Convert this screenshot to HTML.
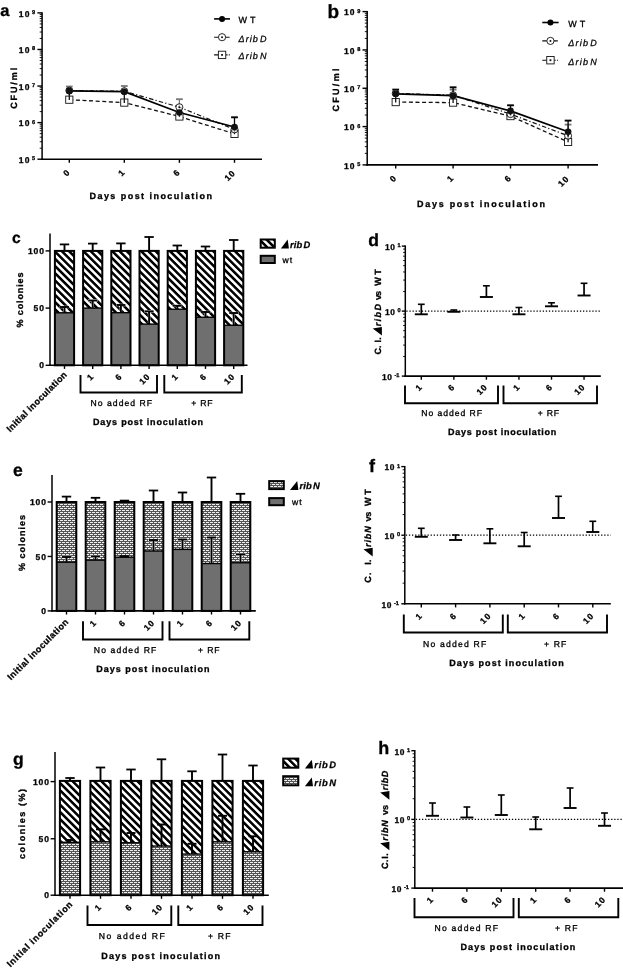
<!DOCTYPE html>
<html><head><meta charset="utf-8"><title>Figure</title>
<style>html,body{margin:0;padding:0;background:#fff}svg{display:block;text-rendering:geometricPrecision;will-change:transform;opacity:0.999}</style></head>
<body>
<svg width="623" height="968" viewBox="0 0 623 968" font-family='"Liberation Sans", Arial, sans-serif'>
<rect width="623" height="968" fill="#fff"/>
<text x="0.30" y="15.70" font-size="16.5" font-weight="bold" text-anchor="start" fill="#000" stroke="#000" stroke-width="0.3" >a</text>
<line x1="42.10" y1="12.20" x2="42.10" y2="160.00" stroke="#000" stroke-width="1.5" />
<line x1="37.40" y1="12.90" x2="42.10" y2="12.90" stroke="#000" stroke-width="1.4" />
<text x="30.50" y="16.70" font-size="8.5" font-weight="bold" text-anchor="end" fill="#000" letter-spacing="1.1" stroke="#000" stroke-width="0.3" >10</text>
<text x="32.10" y="13.90" font-size="5.6" font-weight="bold" text-anchor="start" fill="#000" stroke="#000" stroke-width="0.3" >9</text>
<line x1="39.70" y1="38.46" x2="42.10" y2="38.46" stroke="#000" stroke-width="0.9" />
<line x1="39.70" y1="32.02" x2="42.10" y2="32.02" stroke="#000" stroke-width="0.9" />
<line x1="39.70" y1="27.45" x2="42.10" y2="27.45" stroke="#000" stroke-width="0.9" />
<line x1="39.70" y1="23.91" x2="42.10" y2="23.91" stroke="#000" stroke-width="0.9" />
<line x1="39.70" y1="21.01" x2="42.10" y2="21.01" stroke="#000" stroke-width="0.9" />
<line x1="39.70" y1="18.57" x2="42.10" y2="18.57" stroke="#000" stroke-width="0.9" />
<line x1="39.70" y1="16.44" x2="42.10" y2="16.44" stroke="#000" stroke-width="0.9" />
<line x1="39.70" y1="14.57" x2="42.10" y2="14.57" stroke="#000" stroke-width="0.9" />
<line x1="37.40" y1="49.47" x2="42.10" y2="49.47" stroke="#000" stroke-width="1.4" />
<text x="30.50" y="53.27" font-size="8.5" font-weight="bold" text-anchor="end" fill="#000" letter-spacing="1.1" stroke="#000" stroke-width="0.3" >10</text>
<text x="32.10" y="50.47" font-size="5.6" font-weight="bold" text-anchor="start" fill="#000" stroke="#000" stroke-width="0.3" >8</text>
<line x1="39.70" y1="75.04" x2="42.10" y2="75.04" stroke="#000" stroke-width="0.9" />
<line x1="39.70" y1="68.60" x2="42.10" y2="68.60" stroke="#000" stroke-width="0.9" />
<line x1="39.70" y1="64.03" x2="42.10" y2="64.03" stroke="#000" stroke-width="0.9" />
<line x1="39.70" y1="60.49" x2="42.10" y2="60.49" stroke="#000" stroke-width="0.9" />
<line x1="39.70" y1="57.59" x2="42.10" y2="57.59" stroke="#000" stroke-width="0.9" />
<line x1="39.70" y1="55.14" x2="42.10" y2="55.14" stroke="#000" stroke-width="0.9" />
<line x1="39.70" y1="53.02" x2="42.10" y2="53.02" stroke="#000" stroke-width="0.9" />
<line x1="39.70" y1="51.15" x2="42.10" y2="51.15" stroke="#000" stroke-width="0.9" />
<line x1="37.40" y1="86.05" x2="42.10" y2="86.05" stroke="#000" stroke-width="1.4" />
<text x="30.50" y="89.85" font-size="8.5" font-weight="bold" text-anchor="end" fill="#000" letter-spacing="1.1" stroke="#000" stroke-width="0.3" >10</text>
<text x="32.10" y="87.05" font-size="5.6" font-weight="bold" text-anchor="start" fill="#000" stroke="#000" stroke-width="0.3" >7</text>
<line x1="39.70" y1="111.61" x2="42.10" y2="111.61" stroke="#000" stroke-width="0.9" />
<line x1="39.70" y1="105.17" x2="42.10" y2="105.17" stroke="#000" stroke-width="0.9" />
<line x1="39.70" y1="100.60" x2="42.10" y2="100.60" stroke="#000" stroke-width="0.9" />
<line x1="39.70" y1="97.06" x2="42.10" y2="97.06" stroke="#000" stroke-width="0.9" />
<line x1="39.70" y1="94.16" x2="42.10" y2="94.16" stroke="#000" stroke-width="0.9" />
<line x1="39.70" y1="91.72" x2="42.10" y2="91.72" stroke="#000" stroke-width="0.9" />
<line x1="39.70" y1="89.59" x2="42.10" y2="89.59" stroke="#000" stroke-width="0.9" />
<line x1="39.70" y1="87.72" x2="42.10" y2="87.72" stroke="#000" stroke-width="0.9" />
<line x1="37.40" y1="122.62" x2="42.10" y2="122.62" stroke="#000" stroke-width="1.4" />
<text x="30.50" y="126.42" font-size="8.5" font-weight="bold" text-anchor="end" fill="#000" letter-spacing="1.1" stroke="#000" stroke-width="0.3" >10</text>
<text x="32.10" y="123.62" font-size="5.6" font-weight="bold" text-anchor="start" fill="#000" stroke="#000" stroke-width="0.3" >6</text>
<line x1="39.70" y1="148.19" x2="42.10" y2="148.19" stroke="#000" stroke-width="0.9" />
<line x1="39.70" y1="141.75" x2="42.10" y2="141.75" stroke="#000" stroke-width="0.9" />
<line x1="39.70" y1="137.18" x2="42.10" y2="137.18" stroke="#000" stroke-width="0.9" />
<line x1="39.70" y1="133.64" x2="42.10" y2="133.64" stroke="#000" stroke-width="0.9" />
<line x1="39.70" y1="130.74" x2="42.10" y2="130.74" stroke="#000" stroke-width="0.9" />
<line x1="39.70" y1="128.29" x2="42.10" y2="128.29" stroke="#000" stroke-width="0.9" />
<line x1="39.70" y1="126.17" x2="42.10" y2="126.17" stroke="#000" stroke-width="0.9" />
<line x1="39.70" y1="124.30" x2="42.10" y2="124.30" stroke="#000" stroke-width="0.9" />
<line x1="37.40" y1="159.20" x2="42.10" y2="159.20" stroke="#000" stroke-width="1.4" />
<text x="30.50" y="163.00" font-size="8.5" font-weight="bold" text-anchor="end" fill="#000" letter-spacing="1.1" stroke="#000" stroke-width="0.3" >10</text>
<text x="32.10" y="160.20" font-size="5.6" font-weight="bold" text-anchor="start" fill="#000" stroke="#000" stroke-width="0.3" >5</text>
<line x1="41.30" y1="159.20" x2="262.00" y2="159.20" stroke="#000" stroke-width="1.6" />
<line x1="69.30" y1="159.20" x2="69.30" y2="162.80" stroke="#000" stroke-width="1.4" />
<text x="70.80" y="172.70" font-size="8.5" font-weight="bold" text-anchor="end" fill="#000" transform="rotate(-45 70.80 172.70)" letter-spacing="1.0" stroke="#000" stroke-width="0.3" >0</text>
<line x1="124.30" y1="159.20" x2="124.30" y2="162.80" stroke="#000" stroke-width="1.4" />
<text x="125.80" y="172.70" font-size="8.5" font-weight="bold" text-anchor="end" fill="#000" transform="rotate(-45 125.80 172.70)" letter-spacing="1.0" stroke="#000" stroke-width="0.3" >1</text>
<line x1="179.40" y1="159.20" x2="179.40" y2="162.80" stroke="#000" stroke-width="1.4" />
<text x="180.90" y="172.70" font-size="8.5" font-weight="bold" text-anchor="end" fill="#000" transform="rotate(-45 180.90 172.70)" letter-spacing="1.0" stroke="#000" stroke-width="0.3" >6</text>
<line x1="234.50" y1="159.20" x2="234.50" y2="162.80" stroke="#000" stroke-width="1.4" />
<text x="236.10" y="173.40" font-size="8.5" font-weight="bold" text-anchor="end" fill="#000" transform="rotate(-45 236.10 173.40)" letter-spacing="1.0" stroke="#000" stroke-width="0.3" >10</text>
<text x="16.60" y="88.30" font-size="9" font-weight="bold" text-anchor="middle" fill="#000" transform="rotate(-90 16.60 88.30)" textLength="41.00" lengthAdjust="spacing" stroke="#000" stroke-width="0.3" >CFU/ml</text>
<text x="89.50" y="199.00" font-size="9" font-weight="bold" text-anchor="start" fill="#000" textLength="122.50" lengthAdjust="spacing" stroke="#000" stroke-width="0.3" >Days post inoculation</text>
<line x1="69.30" y1="90.60" x2="69.30" y2="86.50" stroke="#777" stroke-width="1.2" />
<line x1="65.90" y1="86.50" x2="72.70" y2="86.50" stroke="#777" stroke-width="1.7999999999999998" />
<line x1="124.30" y1="91.20" x2="124.30" y2="86.00" stroke="#777" stroke-width="1.2" />
<line x1="120.90" y1="86.00" x2="127.70" y2="86.00" stroke="#777" stroke-width="1.7999999999999998" />
<line x1="179.40" y1="107.20" x2="179.40" y2="99.20" stroke="#777" stroke-width="1.2" />
<line x1="176.00" y1="99.20" x2="182.80" y2="99.20" stroke="#777" stroke-width="1.7999999999999998" />
<polyline points="69.30,99.70 124.30,102.60 179.40,116.50 234.50,133.90" fill="none" stroke="#111" stroke-width="1.3" stroke-dasharray="4 2.6"/>
<polyline points="69.30,90.60 124.30,91.20 179.40,107.20 234.50,129.40" fill="none" stroke="#111" stroke-width="1.2" stroke-dasharray="4.5 2.2 1.2 2.2"/>
<polyline points="69.30,90.90 124.30,91.70 179.40,112.50 234.50,127.00" fill="none" stroke="#000" stroke-width="1.7"/>
<line x1="234.50" y1="127.00" x2="234.50" y2="117.30" stroke="#000" stroke-width="1.3" />
<line x1="231.10" y1="117.30" x2="237.90" y2="117.30" stroke="#000" stroke-width="1.9" />
<rect x="65.70" y="96.10" width="7.20" height="7.20" fill="#fff" stroke="#111" stroke-width="0.9" />
<line x1="69.30" y1="100.00" x2="69.30" y2="93.50" stroke="#111" stroke-width="1.3" />
<circle cx="69.30" cy="90.60" r="3.5" fill="#fff" fill-opacity="0.6" stroke="#111" stroke-width="0.9"/>
<circle cx="69.30" cy="90.60" r="1" fill="#111"/>
<circle cx="69.30" cy="90.90" r="3.3" fill="#111"/>
<rect x="120.70" y="99.00" width="7.20" height="7.20" fill="#fff" stroke="#111" stroke-width="0.9" />
<line x1="124.30" y1="102.90" x2="124.30" y2="95.00" stroke="#111" stroke-width="1.3" />
<circle cx="124.30" cy="91.20" r="3.5" fill="#fff" fill-opacity="0.6" stroke="#111" stroke-width="0.9"/>
<circle cx="124.30" cy="91.20" r="1" fill="#111"/>
<circle cx="124.30" cy="91.70" r="3.3" fill="#111"/>
<rect x="175.80" y="112.90" width="7.20" height="7.20" fill="#fff" stroke="#111" stroke-width="0.9" />
<line x1="179.40" y1="116.80" x2="179.40" y2="110.50" stroke="#111" stroke-width="1.3" />
<circle cx="179.40" cy="107.20" r="3.5" fill="#fff" fill-opacity="0.6" stroke="#111" stroke-width="0.9"/>
<circle cx="179.40" cy="107.20" r="1" fill="#111"/>
<circle cx="179.40" cy="112.50" r="3.3" fill="#111"/>
<rect x="230.90" y="130.30" width="7.20" height="7.20" fill="#fff" stroke="#111" stroke-width="0.9" />
<line x1="234.50" y1="134.20" x2="234.50" y2="127.50" stroke="#111" stroke-width="1.3" />
<circle cx="234.50" cy="129.40" r="3.5" fill="#fff" fill-opacity="0.6" stroke="#111" stroke-width="0.9"/>
<circle cx="234.50" cy="129.40" r="1" fill="#111"/>
<circle cx="234.50" cy="127.00" r="3.3" fill="#111"/>
<line x1="214.10" y1="18.90" x2="230.00" y2="18.90" stroke="#000" stroke-width="1.6" />
<circle cx="222.05" cy="18.90" r="3" fill="#000"/>
<line x1="214.10" y1="37.20" x2="230.00" y2="37.20" stroke="#111" stroke-width="1.1" stroke-dasharray="4.5 6.5 4.5 2"/>
<circle cx="222.05" cy="37.20" r="3.6" fill="#fff" stroke="#111" stroke-width="0.9"/><circle cx="222.05" cy="37.20" r="1" fill="#111"/>
<line x1="214.10" y1="54.90" x2="230.00" y2="54.90" stroke="#111" stroke-width="1.1" stroke-dasharray="4.5 7.5 1.5 1.2 1 2"/>
<rect x="218.35" y="51.20" width="7.40" height="7.40" fill="#fff" stroke="#111" stroke-width="0.9" />
<rect x="221.15" y="54.00" width="1.80" height="1.80" fill="#111" stroke="none" stroke-width="0" />
<text x="238.50" y="22.50" font-size="9" font-weight="normal" text-anchor="start" fill="#000" textLength="16.90" lengthAdjust="spacing" stroke="#000" stroke-width="0.3" >W T</text>
<text x="238.50" y="42.00" font-size="9" font-style="italic" stroke="#000" stroke-width="0.25" textLength="28.10" lengthAdjust="spacing">Δrib<tspan dx="1.2">D</tspan></text>
<text x="238.50" y="59.40" font-size="9" font-style="italic" stroke="#000" stroke-width="0.25" textLength="28.10" lengthAdjust="spacing">Δrib<tspan dx="1.2">N</tspan></text>
<text x="327.60" y="18.00" font-size="19" font-weight="bold" text-anchor="start" fill="#000" stroke="#000" stroke-width="0.3" >b</text>
<line x1="367.20" y1="10.90" x2="367.20" y2="165.70" stroke="#000" stroke-width="1.5" />
<line x1="362.50" y1="11.60" x2="367.20" y2="11.60" stroke="#000" stroke-width="1.4" />
<text x="355.60" y="15.40" font-size="8.5" font-weight="bold" text-anchor="end" fill="#000" letter-spacing="1.1" stroke="#000" stroke-width="0.3" >10</text>
<text x="357.20" y="12.60" font-size="5.6" font-weight="bold" text-anchor="start" fill="#000" stroke="#000" stroke-width="0.3" >9</text>
<line x1="364.80" y1="38.39" x2="367.20" y2="38.39" stroke="#000" stroke-width="0.9" />
<line x1="364.80" y1="31.64" x2="367.20" y2="31.64" stroke="#000" stroke-width="0.9" />
<line x1="364.80" y1="26.85" x2="367.20" y2="26.85" stroke="#000" stroke-width="0.9" />
<line x1="364.80" y1="23.14" x2="367.20" y2="23.14" stroke="#000" stroke-width="0.9" />
<line x1="364.80" y1="20.10" x2="367.20" y2="20.10" stroke="#000" stroke-width="0.9" />
<line x1="364.80" y1="17.54" x2="367.20" y2="17.54" stroke="#000" stroke-width="0.9" />
<line x1="364.80" y1="15.31" x2="367.20" y2="15.31" stroke="#000" stroke-width="0.9" />
<line x1="364.80" y1="13.35" x2="367.20" y2="13.35" stroke="#000" stroke-width="0.9" />
<line x1="362.50" y1="49.93" x2="367.20" y2="49.93" stroke="#000" stroke-width="1.4" />
<text x="355.60" y="53.73" font-size="8.5" font-weight="bold" text-anchor="end" fill="#000" letter-spacing="1.1" stroke="#000" stroke-width="0.3" >10</text>
<text x="357.20" y="50.93" font-size="5.6" font-weight="bold" text-anchor="start" fill="#000" stroke="#000" stroke-width="0.3" >8</text>
<line x1="364.80" y1="76.71" x2="367.20" y2="76.71" stroke="#000" stroke-width="0.9" />
<line x1="364.80" y1="69.96" x2="367.20" y2="69.96" stroke="#000" stroke-width="0.9" />
<line x1="364.80" y1="65.18" x2="367.20" y2="65.18" stroke="#000" stroke-width="0.9" />
<line x1="364.80" y1="61.46" x2="367.20" y2="61.46" stroke="#000" stroke-width="0.9" />
<line x1="364.80" y1="58.43" x2="367.20" y2="58.43" stroke="#000" stroke-width="0.9" />
<line x1="364.80" y1="55.86" x2="367.20" y2="55.86" stroke="#000" stroke-width="0.9" />
<line x1="364.80" y1="53.64" x2="367.20" y2="53.64" stroke="#000" stroke-width="0.9" />
<line x1="364.80" y1="51.68" x2="367.20" y2="51.68" stroke="#000" stroke-width="0.9" />
<line x1="362.50" y1="88.25" x2="367.20" y2="88.25" stroke="#000" stroke-width="1.4" />
<text x="355.60" y="92.05" font-size="8.5" font-weight="bold" text-anchor="end" fill="#000" letter-spacing="1.1" stroke="#000" stroke-width="0.3" >10</text>
<text x="357.20" y="89.25" font-size="5.6" font-weight="bold" text-anchor="start" fill="#000" stroke="#000" stroke-width="0.3" >7</text>
<line x1="364.80" y1="115.04" x2="367.20" y2="115.04" stroke="#000" stroke-width="0.9" />
<line x1="364.80" y1="108.29" x2="367.20" y2="108.29" stroke="#000" stroke-width="0.9" />
<line x1="364.80" y1="103.50" x2="367.20" y2="103.50" stroke="#000" stroke-width="0.9" />
<line x1="364.80" y1="99.79" x2="367.20" y2="99.79" stroke="#000" stroke-width="0.9" />
<line x1="364.80" y1="96.75" x2="367.20" y2="96.75" stroke="#000" stroke-width="0.9" />
<line x1="364.80" y1="94.19" x2="367.20" y2="94.19" stroke="#000" stroke-width="0.9" />
<line x1="364.80" y1="91.96" x2="367.20" y2="91.96" stroke="#000" stroke-width="0.9" />
<line x1="364.80" y1="90.00" x2="367.20" y2="90.00" stroke="#000" stroke-width="0.9" />
<line x1="362.50" y1="126.58" x2="367.20" y2="126.58" stroke="#000" stroke-width="1.4" />
<text x="355.60" y="130.38" font-size="8.5" font-weight="bold" text-anchor="end" fill="#000" letter-spacing="1.1" stroke="#000" stroke-width="0.3" >10</text>
<text x="357.20" y="127.58" font-size="5.6" font-weight="bold" text-anchor="start" fill="#000" stroke="#000" stroke-width="0.3" >6</text>
<line x1="364.80" y1="153.36" x2="367.20" y2="153.36" stroke="#000" stroke-width="0.9" />
<line x1="364.80" y1="146.61" x2="367.20" y2="146.61" stroke="#000" stroke-width="0.9" />
<line x1="364.80" y1="141.83" x2="367.20" y2="141.83" stroke="#000" stroke-width="0.9" />
<line x1="364.80" y1="138.11" x2="367.20" y2="138.11" stroke="#000" stroke-width="0.9" />
<line x1="364.80" y1="135.08" x2="367.20" y2="135.08" stroke="#000" stroke-width="0.9" />
<line x1="364.80" y1="132.51" x2="367.20" y2="132.51" stroke="#000" stroke-width="0.9" />
<line x1="364.80" y1="130.29" x2="367.20" y2="130.29" stroke="#000" stroke-width="0.9" />
<line x1="364.80" y1="128.33" x2="367.20" y2="128.33" stroke="#000" stroke-width="0.9" />
<line x1="362.50" y1="164.90" x2="367.20" y2="164.90" stroke="#000" stroke-width="1.4" />
<text x="355.60" y="168.70" font-size="8.5" font-weight="bold" text-anchor="end" fill="#000" letter-spacing="1.1" stroke="#000" stroke-width="0.3" >10</text>
<text x="357.20" y="165.90" font-size="5.6" font-weight="bold" text-anchor="start" fill="#000" stroke="#000" stroke-width="0.3" >5</text>
<line x1="366.40" y1="164.90" x2="598.00" y2="164.90" stroke="#000" stroke-width="1.6" />
<line x1="395.70" y1="164.90" x2="395.70" y2="168.50" stroke="#000" stroke-width="1.4" />
<text x="397.20" y="178.40" font-size="8.5" font-weight="bold" text-anchor="end" fill="#000" transform="rotate(-45 397.20 178.40)" letter-spacing="1.0" stroke="#000" stroke-width="0.3" >0</text>
<line x1="453.10" y1="164.90" x2="453.10" y2="168.50" stroke="#000" stroke-width="1.4" />
<text x="454.60" y="178.40" font-size="8.5" font-weight="bold" text-anchor="end" fill="#000" transform="rotate(-45 454.60 178.40)" letter-spacing="1.0" stroke="#000" stroke-width="0.3" >1</text>
<line x1="510.50" y1="164.90" x2="510.50" y2="168.50" stroke="#000" stroke-width="1.4" />
<text x="512.00" y="178.40" font-size="8.5" font-weight="bold" text-anchor="end" fill="#000" transform="rotate(-45 512.00 178.40)" letter-spacing="1.0" stroke="#000" stroke-width="0.3" >6</text>
<line x1="568.10" y1="164.90" x2="568.10" y2="168.50" stroke="#000" stroke-width="1.4" />
<text x="569.70" y="179.10" font-size="8.5" font-weight="bold" text-anchor="end" fill="#000" transform="rotate(-45 569.70 179.10)" letter-spacing="1.0" stroke="#000" stroke-width="0.3" >10</text>
<text x="338.80" y="90.00" font-size="9" font-weight="bold" text-anchor="middle" fill="#000" transform="rotate(-90 338.80 90.00)" textLength="43.00" lengthAdjust="spacing" stroke="#000" stroke-width="0.3" >CFU/ml</text>
<text x="417.00" y="206.50" font-size="9" font-weight="bold" text-anchor="start" fill="#000" textLength="128.00" lengthAdjust="spacing" stroke="#000" stroke-width="0.3" >Days post inoculation</text>
<line x1="453.10" y1="95.20" x2="453.10" y2="89.60" stroke="#777" stroke-width="1.2" />
<line x1="449.70" y1="89.60" x2="456.50" y2="89.60" stroke="#777" stroke-width="1.7999999999999998" />
<line x1="568.10" y1="135.80" x2="568.10" y2="124.60" stroke="#777" stroke-width="1.2" />
<line x1="564.70" y1="124.60" x2="571.50" y2="124.60" stroke="#777" stroke-width="1.7999999999999998" />
<polyline points="395.70,102.10 453.10,102.60 510.50,116.10 568.10,141.90" fill="none" stroke="#111" stroke-width="1.3" stroke-dasharray="4 2.6"/>
<polyline points="395.70,93.40 453.10,95.20 510.50,114.10 568.10,135.80" fill="none" stroke="#111" stroke-width="1.2" stroke-dasharray="4.5 2.2 1.2 2.2"/>
<polyline points="395.70,93.80 453.10,95.70 510.50,110.90 568.10,131.80" fill="none" stroke="#000" stroke-width="1.7"/>
<line x1="395.70" y1="93.80" x2="395.70" y2="89.60" stroke="#000" stroke-width="1.3" />
<line x1="392.30" y1="89.60" x2="399.10" y2="89.60" stroke="#000" stroke-width="1.9" />
<line x1="453.10" y1="95.70" x2="453.10" y2="87.30" stroke="#000" stroke-width="1.3" />
<line x1="449.70" y1="87.30" x2="456.50" y2="87.30" stroke="#000" stroke-width="1.9" />
<line x1="510.50" y1="110.90" x2="510.50" y2="105.30" stroke="#000" stroke-width="1.3" />
<line x1="507.10" y1="105.30" x2="513.90" y2="105.30" stroke="#000" stroke-width="1.9" />
<line x1="568.10" y1="131.80" x2="568.10" y2="120.60" stroke="#000" stroke-width="1.3" />
<line x1="564.70" y1="120.60" x2="571.50" y2="120.60" stroke="#000" stroke-width="1.9" />
<rect x="392.10" y="98.50" width="7.20" height="7.20" fill="#fff" stroke="#111" stroke-width="0.9" />
<line x1="395.70" y1="102.40" x2="395.70" y2="95.00" stroke="#111" stroke-width="1.3" />
<circle cx="395.70" cy="93.40" r="3.5" fill="#fff" fill-opacity="0.6" stroke="#111" stroke-width="0.9"/>
<circle cx="395.70" cy="93.40" r="1" fill="#111"/>
<circle cx="395.70" cy="93.80" r="3.3" fill="#111"/>
<rect x="449.50" y="99.00" width="7.20" height="7.20" fill="#fff" stroke="#111" stroke-width="0.9" />
<line x1="453.10" y1="102.90" x2="453.10" y2="96.00" stroke="#111" stroke-width="1.3" />
<circle cx="453.10" cy="95.20" r="3.5" fill="#fff" fill-opacity="0.6" stroke="#111" stroke-width="0.9"/>
<circle cx="453.10" cy="95.20" r="1" fill="#111"/>
<circle cx="453.10" cy="95.70" r="3.3" fill="#111"/>
<rect x="506.90" y="112.50" width="7.20" height="7.20" fill="#fff" stroke="#111" stroke-width="0.9" />
<line x1="510.50" y1="116.40" x2="510.50" y2="111.50" stroke="#111" stroke-width="1.3" />
<circle cx="510.50" cy="114.10" r="3.5" fill="#fff" fill-opacity="0.6" stroke="#111" stroke-width="0.9"/>
<circle cx="510.50" cy="114.10" r="1" fill="#111"/>
<circle cx="510.50" cy="110.90" r="3.3" fill="#111"/>
<rect x="564.50" y="138.30" width="7.20" height="7.20" fill="#fff" stroke="#111" stroke-width="0.9" />
<line x1="568.10" y1="142.20" x2="568.10" y2="134.00" stroke="#111" stroke-width="1.3" />
<circle cx="568.10" cy="135.80" r="3.5" fill="#fff" fill-opacity="0.6" stroke="#111" stroke-width="0.9"/>
<circle cx="568.10" cy="135.80" r="1" fill="#111"/>
<circle cx="568.10" cy="131.80" r="3.3" fill="#111"/>
<line x1="542.30" y1="22.50" x2="558.60" y2="22.50" stroke="#000" stroke-width="1.6" />
<circle cx="550.45" cy="22.50" r="3" fill="#000"/>
<line x1="542.30" y1="40.90" x2="558.60" y2="40.90" stroke="#111" stroke-width="1.1" stroke-dasharray="4.5 6.5 4.5 2"/>
<circle cx="550.45" cy="40.90" r="3.6" fill="#fff" stroke="#111" stroke-width="0.9"/><circle cx="550.45" cy="40.90" r="1" fill="#111"/>
<line x1="542.30" y1="60.20" x2="558.60" y2="60.20" stroke="#111" stroke-width="1.1" stroke-dasharray="4.5 7.5 1.5 1.2 1 2"/>
<rect x="546.75" y="56.50" width="7.40" height="7.40" fill="#fff" stroke="#111" stroke-width="0.9" />
<rect x="549.55" y="59.30" width="1.80" height="1.80" fill="#111" stroke="none" stroke-width="0" />
<text x="568.30" y="26.50" font-size="9" font-weight="normal" text-anchor="start" fill="#000" textLength="17.00" lengthAdjust="spacing" stroke="#000" stroke-width="0.3" >W T</text>
<text x="568.30" y="45.70" font-size="9" font-style="italic" stroke="#000" stroke-width="0.25" textLength="28.50" lengthAdjust="spacing">Δrib<tspan dx="1.2">D</tspan></text>
<text x="568.30" y="64.70" font-size="9" font-style="italic" stroke="#000" stroke-width="0.25" textLength="28.50" lengthAdjust="spacing">Δrib<tspan dx="1.2">N</tspan></text>
<defs>
<pattern id="hatch" width="5.1" height="5.1" patternUnits="userSpaceOnUse" patternTransform="rotate(45)">
<rect width="5.1" height="5.1" fill="#fff"/><rect y="0" width="5.1" height="2.55" fill="#000"/></pattern>
<pattern id="brick" width="4" height="4" patternUnits="userSpaceOnUse" shape-rendering="crispEdges">
<rect width="4" height="4" fill="#555"/>
<rect x="0" y="0" width="3" height="1" fill="#f0f0f0"/>
<rect x="2" y="2" width="2" height="1" fill="#f0f0f0"/><rect x="0" y="2" width="1" height="1" fill="#f0f0f0"/>
</pattern>
</defs>
<text x="12.00" y="242.60" font-size="15.6" font-weight="bold" text-anchor="start" fill="#000" stroke="#000" stroke-width="0.3" >c</text>
<line x1="64.50" y1="250.90" x2="64.50" y2="244.40" stroke="#000" stroke-width="1.9" />
<line x1="59.80" y1="244.40" x2="69.20" y2="244.40" stroke="#000" stroke-width="1.8" />
<rect x="54.90" y="250.90" width="19.20" height="61.89" fill="url(#hatch)"/>
<rect x="54.90" y="312.79" width="19.20" height="52.51" fill="#6f6f6f"/>
<line x1="54.90" y1="312.79" x2="74.10" y2="312.79" stroke="#000" stroke-width="1.4" />
<rect x="54.90" y="250.90" width="19.20" height="114.40" fill="none" stroke="#000" stroke-width="2.0" />
<line x1="64.50" y1="311.79" x2="64.50" y2="307.00" stroke="#fff" stroke-width="2.5" />
<line x1="59.70" y1="307.00" x2="69.30" y2="307.00" stroke="#fff" stroke-width="2.5" />
<line x1="64.50" y1="312.79" x2="64.50" y2="307.00" stroke="#000" stroke-width="1.9" />
<line x1="60.00" y1="307.00" x2="69.00" y2="307.00" stroke="#000" stroke-width="1.9" />
<line x1="92.70" y1="250.90" x2="92.70" y2="243.60" stroke="#000" stroke-width="1.9" />
<line x1="88.00" y1="243.60" x2="97.40" y2="243.60" stroke="#000" stroke-width="1.8" />
<rect x="83.10" y="250.90" width="19.20" height="57.20" fill="url(#hatch)"/>
<rect x="83.10" y="308.10" width="19.20" height="57.20" fill="#6f6f6f"/>
<line x1="83.10" y1="308.10" x2="102.30" y2="308.10" stroke="#000" stroke-width="1.4" />
<rect x="83.10" y="250.90" width="19.20" height="114.40" fill="none" stroke="#000" stroke-width="2.0" />
<line x1="92.70" y1="307.10" x2="92.70" y2="300.50" stroke="#fff" stroke-width="2.5" />
<line x1="87.90" y1="300.50" x2="97.50" y2="300.50" stroke="#fff" stroke-width="2.5" />
<line x1="92.70" y1="308.10" x2="92.70" y2="300.50" stroke="#000" stroke-width="1.9" />
<line x1="88.20" y1="300.50" x2="97.20" y2="300.50" stroke="#000" stroke-width="1.9" />
<line x1="120.90" y1="250.90" x2="120.90" y2="243.40" stroke="#000" stroke-width="1.9" />
<line x1="116.20" y1="243.40" x2="125.60" y2="243.40" stroke="#000" stroke-width="1.8" />
<rect x="111.30" y="250.90" width="19.20" height="61.78" fill="url(#hatch)"/>
<rect x="111.30" y="312.68" width="19.20" height="52.62" fill="#6f6f6f"/>
<line x1="111.30" y1="312.68" x2="130.50" y2="312.68" stroke="#000" stroke-width="1.4" />
<rect x="111.30" y="250.90" width="19.20" height="114.40" fill="none" stroke="#000" stroke-width="2.0" />
<line x1="120.90" y1="311.68" x2="120.90" y2="305.00" stroke="#fff" stroke-width="2.5" />
<line x1="116.10" y1="305.00" x2="125.70" y2="305.00" stroke="#fff" stroke-width="2.5" />
<line x1="120.90" y1="312.68" x2="120.90" y2="305.00" stroke="#000" stroke-width="1.9" />
<line x1="116.40" y1="305.00" x2="125.40" y2="305.00" stroke="#000" stroke-width="1.9" />
<line x1="149.10" y1="250.90" x2="149.10" y2="237.00" stroke="#000" stroke-width="1.9" />
<line x1="144.40" y1="237.00" x2="153.80" y2="237.00" stroke="#000" stroke-width="1.8" />
<rect x="139.50" y="250.90" width="19.20" height="73.22" fill="url(#hatch)"/>
<rect x="139.50" y="324.12" width="19.20" height="41.18" fill="#6f6f6f"/>
<line x1="139.50" y1="324.12" x2="158.70" y2="324.12" stroke="#000" stroke-width="1.4" />
<rect x="139.50" y="250.90" width="19.20" height="114.40" fill="none" stroke="#000" stroke-width="2.0" />
<line x1="149.10" y1="323.12" x2="149.10" y2="311.30" stroke="#fff" stroke-width="2.5" />
<line x1="144.30" y1="311.30" x2="153.90" y2="311.30" stroke="#fff" stroke-width="2.5" />
<line x1="149.10" y1="324.12" x2="149.10" y2="311.30" stroke="#000" stroke-width="1.9" />
<line x1="144.60" y1="311.30" x2="153.60" y2="311.30" stroke="#000" stroke-width="1.9" />
<line x1="177.30" y1="250.90" x2="177.30" y2="245.50" stroke="#000" stroke-width="1.9" />
<line x1="172.60" y1="245.50" x2="182.00" y2="245.50" stroke="#000" stroke-width="1.8" />
<rect x="167.70" y="250.90" width="19.20" height="58.34" fill="url(#hatch)"/>
<rect x="167.70" y="309.24" width="19.20" height="56.06" fill="#6f6f6f"/>
<line x1="167.70" y1="309.24" x2="186.90" y2="309.24" stroke="#000" stroke-width="1.4" />
<rect x="167.70" y="250.90" width="19.20" height="114.40" fill="none" stroke="#000" stroke-width="2.0" />
<line x1="177.30" y1="308.24" x2="177.30" y2="305.80" stroke="#fff" stroke-width="2.5" />
<line x1="172.50" y1="305.80" x2="182.10" y2="305.80" stroke="#fff" stroke-width="2.5" />
<line x1="177.30" y1="309.24" x2="177.30" y2="305.80" stroke="#000" stroke-width="1.9" />
<line x1="172.80" y1="305.80" x2="181.80" y2="305.80" stroke="#000" stroke-width="1.9" />
<line x1="205.50" y1="250.90" x2="205.50" y2="246.50" stroke="#000" stroke-width="1.9" />
<line x1="200.80" y1="246.50" x2="210.20" y2="246.50" stroke="#000" stroke-width="1.8" />
<rect x="195.90" y="250.90" width="19.20" height="66.35" fill="url(#hatch)"/>
<rect x="195.90" y="317.25" width="19.20" height="48.05" fill="#6f6f6f"/>
<line x1="195.90" y1="317.25" x2="215.10" y2="317.25" stroke="#000" stroke-width="1.4" />
<rect x="195.90" y="250.90" width="19.20" height="114.40" fill="none" stroke="#000" stroke-width="2.0" />
<line x1="205.50" y1="316.25" x2="205.50" y2="312.00" stroke="#fff" stroke-width="2.5" />
<line x1="200.70" y1="312.00" x2="210.30" y2="312.00" stroke="#fff" stroke-width="2.5" />
<line x1="205.50" y1="317.25" x2="205.50" y2="312.00" stroke="#000" stroke-width="1.9" />
<line x1="201.00" y1="312.00" x2="210.00" y2="312.00" stroke="#000" stroke-width="1.9" />
<line x1="233.70" y1="250.90" x2="233.70" y2="240.00" stroke="#000" stroke-width="1.9" />
<line x1="229.00" y1="240.00" x2="238.40" y2="240.00" stroke="#000" stroke-width="1.8" />
<rect x="224.10" y="250.90" width="19.20" height="74.36" fill="url(#hatch)"/>
<rect x="224.10" y="325.26" width="19.20" height="40.04" fill="#6f6f6f"/>
<line x1="224.10" y1="325.26" x2="243.30" y2="325.26" stroke="#000" stroke-width="1.4" />
<rect x="224.10" y="250.90" width="19.20" height="114.40" fill="none" stroke="#000" stroke-width="2.0" />
<line x1="233.70" y1="324.26" x2="233.70" y2="313.00" stroke="#fff" stroke-width="2.5" />
<line x1="228.90" y1="313.00" x2="238.50" y2="313.00" stroke="#fff" stroke-width="2.5" />
<line x1="233.70" y1="325.26" x2="233.70" y2="313.00" stroke="#000" stroke-width="1.9" />
<line x1="229.20" y1="313.00" x2="238.20" y2="313.00" stroke="#000" stroke-width="1.9" />
<line x1="50.00" y1="233.50" x2="50.00" y2="366.10" stroke="#000" stroke-width="1.5" />
<line x1="49.30" y1="365.30" x2="247.50" y2="365.30" stroke="#000" stroke-width="1.6" />
<line x1="45.60" y1="365.30" x2="50.00" y2="365.30" stroke="#000" stroke-width="1.4" />
<text x="44.80" y="368.40" font-size="8.5" font-weight="bold" text-anchor="end" fill="#000" letter-spacing="0.9" stroke="#000" stroke-width="0.3" >0</text>
<line x1="45.60" y1="308.10" x2="50.00" y2="308.10" stroke="#000" stroke-width="1.4" />
<text x="44.80" y="311.20" font-size="8.5" font-weight="bold" text-anchor="end" fill="#000" letter-spacing="0.9" stroke="#000" stroke-width="0.3" >50</text>
<line x1="45.60" y1="250.90" x2="50.00" y2="250.90" stroke="#000" stroke-width="1.4" />
<text x="44.80" y="254.00" font-size="8.5" font-weight="bold" text-anchor="end" fill="#000" letter-spacing="0.9" stroke="#000" stroke-width="0.3" >100</text>
<line x1="64.50" y1="365.30" x2="64.50" y2="368.90" stroke="#000" stroke-width="1.4" />
<line x1="92.70" y1="365.30" x2="92.70" y2="368.90" stroke="#000" stroke-width="1.4" />
<line x1="120.90" y1="365.30" x2="120.90" y2="368.90" stroke="#000" stroke-width="1.4" />
<line x1="149.10" y1="365.30" x2="149.10" y2="368.90" stroke="#000" stroke-width="1.4" />
<line x1="177.30" y1="365.30" x2="177.30" y2="368.90" stroke="#000" stroke-width="1.4" />
<line x1="205.50" y1="365.30" x2="205.50" y2="368.90" stroke="#000" stroke-width="1.4" />
<line x1="233.70" y1="365.30" x2="233.70" y2="368.90" stroke="#000" stroke-width="1.4" />
<text x="23.40" y="300.00" font-size="9" font-weight="bold" text-anchor="middle" fill="#000" transform="rotate(-90 23.40 300.00)" textLength="55.00" lengthAdjust="spacing" stroke="#000" stroke-width="0.3" >% colonies</text>
<text x="67.50" y="375.30" font-size="9" font-weight="bold" text-anchor="end" fill="#000" transform="rotate(-45 67.50 375.30)" textLength="81.00" lengthAdjust="spacing" stroke="#000" stroke-width="0.3" >Initial inoculation</text>
<text x="94.50" y="376.90" font-size="8.5" font-weight="bold" text-anchor="end" fill="#000" transform="rotate(-45 94.50 376.90)" letter-spacing="1.0" stroke="#000" stroke-width="0.3" >1</text>
<text x="122.70" y="376.90" font-size="8.5" font-weight="bold" text-anchor="end" fill="#000" transform="rotate(-45 122.70 376.90)" letter-spacing="1.0" stroke="#000" stroke-width="0.3" >6</text>
<text x="150.90" y="376.90" font-size="8.5" font-weight="bold" text-anchor="end" fill="#000" transform="rotate(-45 150.90 376.90)" letter-spacing="1.0" stroke="#000" stroke-width="0.3" >10</text>
<text x="179.10" y="376.90" font-size="8.5" font-weight="bold" text-anchor="end" fill="#000" transform="rotate(-45 179.10 376.90)" letter-spacing="1.0" stroke="#000" stroke-width="0.3" >1</text>
<text x="207.30" y="376.90" font-size="8.5" font-weight="bold" text-anchor="end" fill="#000" transform="rotate(-45 207.30 376.90)" letter-spacing="1.0" stroke="#000" stroke-width="0.3" >6</text>
<text x="235.50" y="376.90" font-size="8.5" font-weight="bold" text-anchor="end" fill="#000" transform="rotate(-45 235.50 376.90)" letter-spacing="1.0" stroke="#000" stroke-width="0.3" >10</text>
<polyline points="80.50,375.00 80.50,392.50 157.00,392.50 157.00,375.00" fill="none" stroke="#000" stroke-width="1.9"/>
<polyline points="164.30,375.00 164.30,392.50 241.80,392.50 241.80,375.00" fill="none" stroke="#000" stroke-width="1.9"/>
<text x="90.50" y="405.80" font-size="8.6" font-weight="normal" text-anchor="start" fill="#000" textLength="61.50" lengthAdjust="spacing" stroke="#000" stroke-width="0.3" >No added RF</text>
<text x="191.30" y="405.80" font-size="8.6" font-weight="normal" text-anchor="start" fill="#000" textLength="21.20" lengthAdjust="spacing" stroke="#000" stroke-width="0.3" >+ RF</text>
<text x="93.00" y="424.50" font-size="9" font-weight="bold" text-anchor="start" fill="#000" textLength="110.00" lengthAdjust="spacing" stroke="#000" stroke-width="0.3" >Days post inoculation</text>
<rect x="260.70" y="239.50" width="14.10" height="8.20" fill="url(#hatch)" stroke="#000" stroke-width="2" />
<polygon points="280.90,248.40 288.90,248.40 287.70,239.50" fill="#000"/>
<text x="289.90" y="247.90" font-size="9.4" font-weight="bold" font-style="italic" stroke="#000" stroke-width="0.25" textLength="20.30" lengthAdjust="spacing">rib<tspan dx="1">D</tspan></text>
<rect x="260.70" y="255.80" width="14.10" height="7.20" fill="#6f6f6f" stroke="#000" stroke-width="2" />
<text x="282.50" y="262.90" font-size="8.6" font-weight="normal" text-anchor="start" fill="#000" textLength="9.60" lengthAdjust="spacing" stroke="#000" stroke-width="0.3" >wt</text>
<text x="13.00" y="475.60" font-size="17.5" font-weight="bold" text-anchor="start" fill="#000" stroke="#000" stroke-width="0.3" >e</text>
<line x1="66.50" y1="502.00" x2="66.50" y2="496.60" stroke="#000" stroke-width="1.9" />
<line x1="61.80" y1="496.60" x2="71.20" y2="496.60" stroke="#000" stroke-width="1.8" />
<rect x="56.70" y="502.00" width="19.60" height="60.22" fill="url(#brick)"/>
<rect x="56.70" y="562.22" width="19.60" height="48.68" fill="#6f6f6f"/>
<line x1="56.70" y1="562.22" x2="76.30" y2="562.22" stroke="#000" stroke-width="1.4" />
<rect x="56.70" y="502.00" width="19.60" height="108.90" fill="none" stroke="#000" stroke-width="2.0" />
<line x1="66.50" y1="561.22" x2="66.50" y2="557.00" stroke="#fff" stroke-width="2.5" />
<line x1="61.70" y1="557.00" x2="71.30" y2="557.00" stroke="#fff" stroke-width="2.5" />
<line x1="66.50" y1="562.22" x2="66.50" y2="557.00" stroke="#000" stroke-width="1.9" />
<line x1="62.00" y1="557.00" x2="71.00" y2="557.00" stroke="#000" stroke-width="1.9" />
<line x1="95.50" y1="502.00" x2="95.50" y2="497.80" stroke="#000" stroke-width="1.9" />
<line x1="90.80" y1="497.80" x2="100.20" y2="497.80" stroke="#000" stroke-width="1.8" />
<rect x="85.70" y="502.00" width="19.60" height="58.15" fill="url(#brick)"/>
<rect x="85.70" y="560.15" width="19.60" height="50.75" fill="#6f6f6f"/>
<line x1="85.70" y1="560.15" x2="105.30" y2="560.15" stroke="#000" stroke-width="1.4" />
<rect x="85.70" y="502.00" width="19.60" height="108.90" fill="none" stroke="#000" stroke-width="2.0" />
<line x1="95.50" y1="559.15" x2="95.50" y2="556.30" stroke="#fff" stroke-width="2.5" />
<line x1="90.70" y1="556.30" x2="100.30" y2="556.30" stroke="#fff" stroke-width="2.5" />
<line x1="95.50" y1="560.15" x2="95.50" y2="556.30" stroke="#000" stroke-width="1.9" />
<line x1="91.00" y1="556.30" x2="100.00" y2="556.30" stroke="#000" stroke-width="1.9" />
<line x1="124.50" y1="502.00" x2="124.50" y2="500.60" stroke="#000" stroke-width="1.9" />
<line x1="119.80" y1="500.60" x2="129.20" y2="500.60" stroke="#000" stroke-width="1.8" />
<rect x="114.70" y="502.00" width="19.60" height="55.21" fill="url(#brick)"/>
<rect x="114.70" y="557.21" width="19.60" height="53.69" fill="#6f6f6f"/>
<line x1="114.70" y1="557.21" x2="134.30" y2="557.21" stroke="#000" stroke-width="1.4" />
<rect x="114.70" y="502.00" width="19.60" height="108.90" fill="none" stroke="#000" stroke-width="2.0" />
<line x1="124.50" y1="557.21" x2="124.50" y2="556.20" stroke="#000" stroke-width="1.9" />
<line x1="120.00" y1="556.20" x2="129.00" y2="556.20" stroke="#000" stroke-width="1.9" />
<line x1="153.50" y1="502.00" x2="153.50" y2="490.50" stroke="#000" stroke-width="1.9" />
<line x1="148.80" y1="490.50" x2="158.20" y2="490.50" stroke="#000" stroke-width="1.8" />
<rect x="143.70" y="502.00" width="19.60" height="49.00" fill="url(#brick)"/>
<rect x="143.70" y="551.00" width="19.60" height="59.89" fill="#6f6f6f"/>
<line x1="143.70" y1="551.00" x2="163.30" y2="551.00" stroke="#000" stroke-width="1.4" />
<rect x="143.70" y="502.00" width="19.60" height="108.90" fill="none" stroke="#000" stroke-width="2.0" />
<line x1="153.50" y1="550.00" x2="153.50" y2="540.00" stroke="#fff" stroke-width="2.5" />
<line x1="148.70" y1="540.00" x2="158.30" y2="540.00" stroke="#fff" stroke-width="2.5" />
<line x1="153.50" y1="551.00" x2="153.50" y2="540.00" stroke="#000" stroke-width="1.9" />
<line x1="149.00" y1="540.00" x2="158.00" y2="540.00" stroke="#000" stroke-width="1.9" />
<line x1="182.50" y1="502.00" x2="182.50" y2="492.50" stroke="#000" stroke-width="1.9" />
<line x1="177.80" y1="492.50" x2="187.20" y2="492.50" stroke="#000" stroke-width="1.8" />
<rect x="172.70" y="502.00" width="19.60" height="47.37" fill="url(#brick)"/>
<rect x="172.70" y="549.37" width="19.60" height="61.53" fill="#6f6f6f"/>
<line x1="172.70" y1="549.37" x2="192.30" y2="549.37" stroke="#000" stroke-width="1.4" />
<rect x="172.70" y="502.00" width="19.60" height="108.90" fill="none" stroke="#000" stroke-width="2.0" />
<line x1="182.50" y1="548.37" x2="182.50" y2="539.50" stroke="#fff" stroke-width="2.5" />
<line x1="177.70" y1="539.50" x2="187.30" y2="539.50" stroke="#fff" stroke-width="2.5" />
<line x1="182.50" y1="549.37" x2="182.50" y2="539.50" stroke="#000" stroke-width="1.9" />
<line x1="178.00" y1="539.50" x2="187.00" y2="539.50" stroke="#000" stroke-width="1.9" />
<line x1="211.50" y1="502.00" x2="211.50" y2="477.50" stroke="#000" stroke-width="1.9" />
<line x1="206.80" y1="477.50" x2="216.20" y2="477.50" stroke="#000" stroke-width="1.8" />
<rect x="201.70" y="502.00" width="19.60" height="61.53" fill="url(#brick)"/>
<rect x="201.70" y="563.53" width="19.60" height="47.37" fill="#6f6f6f"/>
<line x1="201.70" y1="563.53" x2="221.30" y2="563.53" stroke="#000" stroke-width="1.4" />
<rect x="201.70" y="502.00" width="19.60" height="108.90" fill="none" stroke="#000" stroke-width="2.0" />
<line x1="211.50" y1="562.53" x2="211.50" y2="537.50" stroke="#fff" stroke-width="2.5" />
<line x1="206.70" y1="537.50" x2="216.30" y2="537.50" stroke="#fff" stroke-width="2.5" />
<line x1="211.50" y1="563.53" x2="211.50" y2="537.50" stroke="#000" stroke-width="1.9" />
<line x1="207.00" y1="537.50" x2="216.00" y2="537.50" stroke="#000" stroke-width="1.9" />
<line x1="240.50" y1="502.00" x2="240.50" y2="493.80" stroke="#000" stroke-width="1.9" />
<line x1="235.80" y1="493.80" x2="245.20" y2="493.80" stroke="#000" stroke-width="1.8" />
<rect x="230.70" y="502.00" width="19.60" height="60.77" fill="url(#brick)"/>
<rect x="230.70" y="562.77" width="19.60" height="48.13" fill="#6f6f6f"/>
<line x1="230.70" y1="562.77" x2="250.30" y2="562.77" stroke="#000" stroke-width="1.4" />
<rect x="230.70" y="502.00" width="19.60" height="108.90" fill="none" stroke="#000" stroke-width="2.0" />
<line x1="240.50" y1="561.77" x2="240.50" y2="554.30" stroke="#fff" stroke-width="2.5" />
<line x1="235.70" y1="554.30" x2="245.30" y2="554.30" stroke="#fff" stroke-width="2.5" />
<line x1="240.50" y1="562.77" x2="240.50" y2="554.30" stroke="#000" stroke-width="1.9" />
<line x1="236.00" y1="554.30" x2="245.00" y2="554.30" stroke="#000" stroke-width="1.9" />
<line x1="52.00" y1="475.00" x2="52.00" y2="611.70" stroke="#000" stroke-width="1.5" />
<line x1="51.30" y1="610.90" x2="255.80" y2="610.90" stroke="#000" stroke-width="1.6" />
<line x1="47.60" y1="610.90" x2="52.00" y2="610.90" stroke="#000" stroke-width="1.4" />
<text x="46.80" y="614.00" font-size="8.5" font-weight="bold" text-anchor="end" fill="#000" letter-spacing="0.9" stroke="#000" stroke-width="0.3" >0</text>
<line x1="47.60" y1="556.45" x2="52.00" y2="556.45" stroke="#000" stroke-width="1.4" />
<text x="46.80" y="559.55" font-size="8.5" font-weight="bold" text-anchor="end" fill="#000" letter-spacing="0.9" stroke="#000" stroke-width="0.3" >50</text>
<line x1="47.60" y1="502.00" x2="52.00" y2="502.00" stroke="#000" stroke-width="1.4" />
<text x="46.80" y="505.10" font-size="8.5" font-weight="bold" text-anchor="end" fill="#000" letter-spacing="0.9" stroke="#000" stroke-width="0.3" >100</text>
<line x1="66.50" y1="610.90" x2="66.50" y2="614.50" stroke="#000" stroke-width="1.4" />
<line x1="95.50" y1="610.90" x2="95.50" y2="614.50" stroke="#000" stroke-width="1.4" />
<line x1="124.50" y1="610.90" x2="124.50" y2="614.50" stroke="#000" stroke-width="1.4" />
<line x1="153.50" y1="610.90" x2="153.50" y2="614.50" stroke="#000" stroke-width="1.4" />
<line x1="182.50" y1="610.90" x2="182.50" y2="614.50" stroke="#000" stroke-width="1.4" />
<line x1="211.50" y1="610.90" x2="211.50" y2="614.50" stroke="#000" stroke-width="1.4" />
<line x1="240.50" y1="610.90" x2="240.50" y2="614.50" stroke="#000" stroke-width="1.4" />
<text x="24.60" y="543.00" font-size="9" font-weight="bold" text-anchor="middle" fill="#000" transform="rotate(-90 24.60 543.00)" textLength="56.00" lengthAdjust="spacing" stroke="#000" stroke-width="0.3" >% colonies</text>
<text x="69.00" y="622.60" font-size="9" font-weight="bold" text-anchor="end" fill="#000" transform="rotate(-45 69.00 622.60)" textLength="82.00" lengthAdjust="spacing" stroke="#000" stroke-width="0.3" >Initial inoculation</text>
<text x="97.30" y="623.10" font-size="8.5" font-weight="bold" text-anchor="end" fill="#000" transform="rotate(-45 97.30 623.10)" letter-spacing="1.0" stroke="#000" stroke-width="0.3" >1</text>
<text x="126.30" y="623.10" font-size="8.5" font-weight="bold" text-anchor="end" fill="#000" transform="rotate(-45 126.30 623.10)" letter-spacing="1.0" stroke="#000" stroke-width="0.3" >6</text>
<text x="155.30" y="623.10" font-size="8.5" font-weight="bold" text-anchor="end" fill="#000" transform="rotate(-45 155.30 623.10)" letter-spacing="1.0" stroke="#000" stroke-width="0.3" >10</text>
<text x="184.30" y="623.10" font-size="8.5" font-weight="bold" text-anchor="end" fill="#000" transform="rotate(-45 184.30 623.10)" letter-spacing="1.0" stroke="#000" stroke-width="0.3" >1</text>
<text x="213.30" y="623.10" font-size="8.5" font-weight="bold" text-anchor="end" fill="#000" transform="rotate(-45 213.30 623.10)" letter-spacing="1.0" stroke="#000" stroke-width="0.3" >6</text>
<text x="242.30" y="623.10" font-size="8.5" font-weight="bold" text-anchor="end" fill="#000" transform="rotate(-45 242.30 623.10)" letter-spacing="1.0" stroke="#000" stroke-width="0.3" >10</text>
<polyline points="83.00,621.20 83.00,639.50 162.50,639.50 162.50,621.20" fill="none" stroke="#000" stroke-width="1.9"/>
<polyline points="169.50,621.20 169.50,639.50 249.30,639.50 249.30,621.20" fill="none" stroke="#000" stroke-width="1.9"/>
<text x="93.80" y="652.50" font-size="8.6" font-weight="normal" text-anchor="start" fill="#000" textLength="62.50" lengthAdjust="spacing" stroke="#000" stroke-width="0.3" >No added RF</text>
<text x="198.00" y="652.50" font-size="8.6" font-weight="normal" text-anchor="start" fill="#000" textLength="21.50" lengthAdjust="spacing" stroke="#000" stroke-width="0.3" >+ RF</text>
<text x="96.30" y="671.80" font-size="9" font-weight="bold" text-anchor="start" fill="#000" textLength="113.20" lengthAdjust="spacing" stroke="#000" stroke-width="0.3" >Days post inoculation</text>
<rect x="269.20" y="481.10" width="14.60" height="8.00" fill="url(#brick)" stroke="#000" stroke-width="2" />
<polygon points="290.00,489.90 298.40,489.90 297.20,481.00" fill="#000"/>
<text x="299.40" y="489.40" font-size="9.4" font-weight="bold" font-style="italic" stroke="#000" stroke-width="0.25" textLength="20.40" lengthAdjust="spacing">rib<tspan dx="1">N</tspan></text>
<rect x="269.20" y="498.10" width="14.60" height="7.10" fill="#6f6f6f" stroke="#000" stroke-width="2" />
<text x="292.00" y="505.00" font-size="8.6" font-weight="normal" text-anchor="start" fill="#000" textLength="9.60" lengthAdjust="spacing" stroke="#000" stroke-width="0.3" >wt</text>
<text x="13.00" y="765.20" font-size="17.5" font-weight="bold" text-anchor="start" fill="#000" stroke="#000" stroke-width="0.3" >g</text>
<line x1="70.00" y1="780.90" x2="70.00" y2="778.00" stroke="#000" stroke-width="1.9" />
<line x1="65.30" y1="778.00" x2="74.70" y2="778.00" stroke="#000" stroke-width="1.8" />
<rect x="59.90" y="780.90" width="20.20" height="61.38" fill="url(#hatch)"/>
<rect x="59.90" y="842.28" width="20.20" height="52.92" fill="url(#brick)"/>
<line x1="59.90" y1="842.28" x2="80.10" y2="842.28" stroke="#000" stroke-width="1.4" />
<rect x="59.90" y="780.90" width="20.20" height="114.30" fill="none" stroke="#000" stroke-width="2.0" />
<line x1="70.00" y1="842.28" x2="70.00" y2="840.00" stroke="#000" stroke-width="1.9" />
<line x1="65.50" y1="840.00" x2="74.50" y2="840.00" stroke="#000" stroke-width="1.9" />
<line x1="100.50" y1="780.90" x2="100.50" y2="767.50" stroke="#000" stroke-width="1.9" />
<line x1="95.80" y1="767.50" x2="105.20" y2="767.50" stroke="#000" stroke-width="1.8" />
<rect x="90.40" y="780.90" width="20.20" height="60.92" fill="url(#hatch)"/>
<rect x="90.40" y="841.82" width="20.20" height="53.38" fill="url(#brick)"/>
<line x1="90.40" y1="841.82" x2="110.60" y2="841.82" stroke="#000" stroke-width="1.4" />
<rect x="90.40" y="780.90" width="20.20" height="114.30" fill="none" stroke="#000" stroke-width="2.0" />
<line x1="100.50" y1="841.82" x2="100.50" y2="829.30" stroke="#000" stroke-width="1.9" />
<line x1="96.00" y1="829.30" x2="105.00" y2="829.30" stroke="#000" stroke-width="1.9" />
<line x1="131.00" y1="780.90" x2="131.00" y2="769.50" stroke="#000" stroke-width="1.9" />
<line x1="126.30" y1="769.50" x2="135.70" y2="769.50" stroke="#000" stroke-width="1.8" />
<rect x="120.90" y="780.90" width="20.20" height="61.84" fill="url(#hatch)"/>
<rect x="120.90" y="842.74" width="20.20" height="52.46" fill="url(#brick)"/>
<line x1="120.90" y1="842.74" x2="141.10" y2="842.74" stroke="#000" stroke-width="1.4" />
<rect x="120.90" y="780.90" width="20.20" height="114.30" fill="none" stroke="#000" stroke-width="2.0" />
<line x1="131.00" y1="842.74" x2="131.00" y2="833.00" stroke="#000" stroke-width="1.9" />
<line x1="126.50" y1="833.00" x2="135.50" y2="833.00" stroke="#000" stroke-width="1.9" />
<line x1="161.50" y1="780.90" x2="161.50" y2="759.30" stroke="#000" stroke-width="1.9" />
<line x1="156.80" y1="759.30" x2="166.20" y2="759.30" stroke="#000" stroke-width="1.8" />
<rect x="151.40" y="780.90" width="20.20" height="65.15" fill="url(#hatch)"/>
<rect x="151.40" y="846.05" width="20.20" height="49.15" fill="url(#brick)"/>
<line x1="151.40" y1="846.05" x2="171.60" y2="846.05" stroke="#000" stroke-width="1.4" />
<rect x="151.40" y="780.90" width="20.20" height="114.30" fill="none" stroke="#000" stroke-width="2.0" />
<line x1="161.50" y1="846.05" x2="161.50" y2="824.50" stroke="#000" stroke-width="1.9" />
<line x1="157.00" y1="824.50" x2="166.00" y2="824.50" stroke="#000" stroke-width="1.9" />
<line x1="192.00" y1="780.90" x2="192.00" y2="771.30" stroke="#000" stroke-width="1.9" />
<line x1="187.30" y1="771.30" x2="196.70" y2="771.30" stroke="#000" stroke-width="1.8" />
<rect x="181.90" y="780.90" width="20.20" height="73.15" fill="url(#hatch)"/>
<rect x="181.90" y="854.05" width="20.20" height="41.15" fill="url(#brick)"/>
<line x1="181.90" y1="854.05" x2="202.10" y2="854.05" stroke="#000" stroke-width="1.4" />
<rect x="181.90" y="780.90" width="20.20" height="114.30" fill="none" stroke="#000" stroke-width="2.0" />
<line x1="192.00" y1="854.05" x2="192.00" y2="843.80" stroke="#000" stroke-width="1.9" />
<line x1="187.50" y1="843.80" x2="196.50" y2="843.80" stroke="#000" stroke-width="1.9" />
<line x1="222.50" y1="780.90" x2="222.50" y2="754.50" stroke="#000" stroke-width="1.9" />
<line x1="217.80" y1="754.50" x2="227.20" y2="754.50" stroke="#000" stroke-width="1.8" />
<rect x="212.40" y="780.90" width="20.20" height="60.92" fill="url(#hatch)"/>
<rect x="212.40" y="841.82" width="20.20" height="53.38" fill="url(#brick)"/>
<line x1="212.40" y1="841.82" x2="232.60" y2="841.82" stroke="#000" stroke-width="1.4" />
<rect x="212.40" y="780.90" width="20.20" height="114.30" fill="none" stroke="#000" stroke-width="2.0" />
<line x1="222.50" y1="841.82" x2="222.50" y2="815.80" stroke="#000" stroke-width="1.9" />
<line x1="218.00" y1="815.80" x2="227.00" y2="815.80" stroke="#000" stroke-width="1.9" />
<line x1="253.00" y1="780.90" x2="253.00" y2="765.50" stroke="#000" stroke-width="1.9" />
<line x1="248.30" y1="765.50" x2="257.70" y2="765.50" stroke="#000" stroke-width="1.8" />
<rect x="242.90" y="780.90" width="20.20" height="70.87" fill="url(#hatch)"/>
<rect x="242.90" y="851.77" width="20.20" height="43.43" fill="url(#brick)"/>
<line x1="242.90" y1="851.77" x2="263.10" y2="851.77" stroke="#000" stroke-width="1.4" />
<rect x="242.90" y="780.90" width="20.20" height="114.30" fill="none" stroke="#000" stroke-width="2.0" />
<line x1="253.00" y1="851.77" x2="253.00" y2="836.30" stroke="#000" stroke-width="1.9" />
<line x1="248.50" y1="836.30" x2="257.50" y2="836.30" stroke="#000" stroke-width="1.9" />
<line x1="55.00" y1="752.00" x2="55.00" y2="896.00" stroke="#000" stroke-width="1.5" />
<line x1="54.30" y1="895.20" x2="268.80" y2="895.20" stroke="#000" stroke-width="1.6" />
<line x1="50.60" y1="895.20" x2="55.00" y2="895.20" stroke="#000" stroke-width="1.4" />
<text x="49.80" y="898.30" font-size="8.5" font-weight="bold" text-anchor="end" fill="#000" letter-spacing="0.9" stroke="#000" stroke-width="0.3" >0</text>
<line x1="50.60" y1="838.75" x2="55.00" y2="838.75" stroke="#000" stroke-width="1.4" />
<text x="49.80" y="841.85" font-size="8.5" font-weight="bold" text-anchor="end" fill="#000" letter-spacing="0.9" stroke="#000" stroke-width="0.3" >50</text>
<line x1="50.60" y1="781.60" x2="55.00" y2="781.60" stroke="#000" stroke-width="1.4" />
<text x="49.80" y="784.70" font-size="8.5" font-weight="bold" text-anchor="end" fill="#000" letter-spacing="0.9" stroke="#000" stroke-width="0.3" >100</text>
<line x1="70.00" y1="895.20" x2="70.00" y2="898.80" stroke="#000" stroke-width="1.4" />
<line x1="100.50" y1="895.20" x2="100.50" y2="898.80" stroke="#000" stroke-width="1.4" />
<line x1="131.00" y1="895.20" x2="131.00" y2="898.80" stroke="#000" stroke-width="1.4" />
<line x1="161.50" y1="895.20" x2="161.50" y2="898.80" stroke="#000" stroke-width="1.4" />
<line x1="192.00" y1="895.20" x2="192.00" y2="898.80" stroke="#000" stroke-width="1.4" />
<line x1="222.50" y1="895.20" x2="222.50" y2="898.80" stroke="#000" stroke-width="1.4" />
<line x1="253.00" y1="895.20" x2="253.00" y2="898.80" stroke="#000" stroke-width="1.4" />
<text x="25.30" y="824.00" font-size="9" font-weight="bold" text-anchor="middle" fill="#000" transform="rotate(-90 25.30 824.00)" textLength="70.00" lengthAdjust="spacing" stroke="#000" stroke-width="0.3" >colonies (%)</text>
<text x="73.00" y="905.00" font-size="9" font-weight="bold" text-anchor="end" fill="#000" transform="rotate(-45 73.00 905.00)" textLength="88.50" lengthAdjust="spacing" stroke="#000" stroke-width="0.3" >Initial inoculation</text>
<text x="102.30" y="907.40" font-size="8.5" font-weight="bold" text-anchor="end" fill="#000" transform="rotate(-45 102.30 907.40)" letter-spacing="1.0" stroke="#000" stroke-width="0.3" >1</text>
<text x="132.80" y="907.40" font-size="8.5" font-weight="bold" text-anchor="end" fill="#000" transform="rotate(-45 132.80 907.40)" letter-spacing="1.0" stroke="#000" stroke-width="0.3" >6</text>
<text x="163.30" y="907.40" font-size="8.5" font-weight="bold" text-anchor="end" fill="#000" transform="rotate(-45 163.30 907.40)" letter-spacing="1.0" stroke="#000" stroke-width="0.3" >10</text>
<text x="193.80" y="907.40" font-size="8.5" font-weight="bold" text-anchor="end" fill="#000" transform="rotate(-45 193.80 907.40)" letter-spacing="1.0" stroke="#000" stroke-width="0.3" >1</text>
<text x="224.30" y="907.40" font-size="8.5" font-weight="bold" text-anchor="end" fill="#000" transform="rotate(-45 224.30 907.40)" letter-spacing="1.0" stroke="#000" stroke-width="0.3" >6</text>
<text x="254.80" y="907.40" font-size="8.5" font-weight="bold" text-anchor="end" fill="#000" transform="rotate(-45 254.80 907.40)" letter-spacing="1.0" stroke="#000" stroke-width="0.3" >10</text>
<polyline points="87.50,905.50 87.50,925.00 171.30,925.00 171.30,905.50" fill="none" stroke="#000" stroke-width="1.9"/>
<polyline points="178.30,905.50 178.30,925.00 262.50,925.00 262.50,905.50" fill="none" stroke="#000" stroke-width="1.9"/>
<text x="98.80" y="939.30" font-size="8.6" font-weight="normal" text-anchor="start" fill="#000" textLength="66.00" lengthAdjust="spacing" stroke="#000" stroke-width="0.3" >No added RF</text>
<text x="208.00" y="939.30" font-size="8.6" font-weight="normal" text-anchor="start" fill="#000" textLength="22.50" lengthAdjust="spacing" stroke="#000" stroke-width="0.3" >+ RF</text>
<text x="101.30" y="958.80" font-size="9" font-weight="bold" text-anchor="start" fill="#000" textLength="118.70" lengthAdjust="spacing" stroke="#000" stroke-width="0.3" >Days post inoculation</text>
<rect x="283.20" y="758.60" width="15.10" height="9.10" fill="url(#hatch)" stroke="#000" stroke-width="2" />
<polygon points="304.90,768.60 313.00,768.60 311.80,759.70" fill="#000"/>
<text x="314.30" y="768.10" font-size="9.4" font-weight="bold" font-style="italic" stroke="#000" stroke-width="0.25" textLength="21.80" lengthAdjust="spacing">rib<tspan dx="1">D</tspan></text>
<rect x="283.20" y="776.20" width="15.10" height="9.10" fill="url(#brick)" stroke="#000" stroke-width="2" />
<polygon points="304.90,786.30 313.00,786.30 311.80,777.40" fill="#000"/>
<text x="314.30" y="785.80" font-size="9.4" font-weight="bold" font-style="italic" stroke="#000" stroke-width="0.25" textLength="21.80" lengthAdjust="spacing">rib<tspan dx="1">N</tspan></text>
<text x="368.30" y="246.30" font-size="17.5" font-weight="bold" text-anchor="start" fill="#000" stroke="#000" stroke-width="0.3" >d</text>
<line x1="405.30" y1="245.40" x2="405.30" y2="376.90" stroke="#000" stroke-width="1.5" />
<line x1="401.80" y1="246.10" x2="405.30" y2="246.10" stroke="#000" stroke-width="1.4" />
<text x="395.40" y="249.90" font-size="8.4" font-weight="bold" text-anchor="end" fill="#000" letter-spacing="0.6" stroke="#000" stroke-width="0.3" >10</text>
<text x="397.40" y="247.10" font-size="5.6" font-weight="bold" text-anchor="start" fill="#000" stroke="#000" stroke-width="0.3" >1</text>
<line x1="403.10" y1="291.53" x2="405.30" y2="291.53" stroke="#000" stroke-width="0.9" />
<line x1="403.10" y1="280.09" x2="405.30" y2="280.09" stroke="#000" stroke-width="0.9" />
<line x1="403.10" y1="271.97" x2="405.30" y2="271.97" stroke="#000" stroke-width="0.9" />
<line x1="403.10" y1="265.67" x2="405.30" y2="265.67" stroke="#000" stroke-width="0.9" />
<line x1="403.10" y1="260.52" x2="405.30" y2="260.52" stroke="#000" stroke-width="0.9" />
<line x1="403.10" y1="256.17" x2="405.30" y2="256.17" stroke="#000" stroke-width="0.9" />
<line x1="403.10" y1="252.40" x2="405.30" y2="252.40" stroke="#000" stroke-width="0.9" />
<line x1="403.10" y1="249.07" x2="405.30" y2="249.07" stroke="#000" stroke-width="0.9" />
<line x1="401.80" y1="311.10" x2="405.30" y2="311.10" stroke="#000" stroke-width="1.4" />
<text x="395.40" y="314.90" font-size="8.4" font-weight="bold" text-anchor="end" fill="#000" letter-spacing="0.6" stroke="#000" stroke-width="0.3" >10</text>
<text x="397.40" y="312.10" font-size="5.6" font-weight="bold" text-anchor="start" fill="#000" stroke="#000" stroke-width="0.3" >0</text>
<line x1="403.10" y1="356.53" x2="405.30" y2="356.53" stroke="#000" stroke-width="0.9" />
<line x1="403.10" y1="345.09" x2="405.30" y2="345.09" stroke="#000" stroke-width="0.9" />
<line x1="403.10" y1="336.97" x2="405.30" y2="336.97" stroke="#000" stroke-width="0.9" />
<line x1="403.10" y1="330.67" x2="405.30" y2="330.67" stroke="#000" stroke-width="0.9" />
<line x1="403.10" y1="325.52" x2="405.30" y2="325.52" stroke="#000" stroke-width="0.9" />
<line x1="403.10" y1="321.17" x2="405.30" y2="321.17" stroke="#000" stroke-width="0.9" />
<line x1="403.10" y1="317.40" x2="405.30" y2="317.40" stroke="#000" stroke-width="0.9" />
<line x1="403.10" y1="314.07" x2="405.30" y2="314.07" stroke="#000" stroke-width="0.9" />
<line x1="401.80" y1="376.10" x2="405.30" y2="376.10" stroke="#000" stroke-width="1.4" />
<text x="392.40" y="379.90" font-size="8.4" font-weight="bold" text-anchor="end" fill="#000" letter-spacing="0.6" stroke="#000" stroke-width="0.3" >10</text>
<text x="394.40" y="377.10" font-size="5.6" font-weight="bold" text-anchor="start" fill="#000" stroke="#000" stroke-width="0.3" >-1</text>
<line x1="404.50" y1="376.10" x2="600.80" y2="376.10" stroke="#000" stroke-width="1.6" />
<line x1="406.30" y1="311.10" x2="600.80" y2="311.10" stroke="#000" stroke-width="1.3" stroke-dasharray="1.3 1.8"/>
<line x1="421.30" y1="376.10" x2="421.30" y2="379.70" stroke="#000" stroke-width="1.4" />
<line x1="453.85" y1="376.10" x2="453.85" y2="379.70" stroke="#000" stroke-width="1.4" />
<line x1="486.40" y1="376.10" x2="486.40" y2="379.70" stroke="#000" stroke-width="1.4" />
<line x1="518.95" y1="376.10" x2="518.95" y2="379.70" stroke="#000" stroke-width="1.4" />
<line x1="551.50" y1="376.10" x2="551.50" y2="379.70" stroke="#000" stroke-width="1.4" />
<line x1="584.05" y1="376.10" x2="584.05" y2="379.70" stroke="#000" stroke-width="1.4" />
<line x1="421.30" y1="314.30" x2="421.30" y2="304.30" stroke="#000" stroke-width="1.7" />
<line x1="414.80" y1="314.30" x2="427.80" y2="314.30" stroke="#000" stroke-width="1.9" />
<line x1="417.90" y1="304.30" x2="424.70" y2="304.30" stroke="#000" stroke-width="1.6" />
<line x1="453.85" y1="311.80" x2="453.85" y2="310.00" stroke="#000" stroke-width="1.7" />
<line x1="447.35" y1="311.80" x2="460.35" y2="311.80" stroke="#000" stroke-width="1.9" />
<line x1="450.45" y1="310.00" x2="457.25" y2="310.00" stroke="#000" stroke-width="1.6" />
<line x1="486.40" y1="297.00" x2="486.40" y2="285.80" stroke="#000" stroke-width="1.7" />
<line x1="479.90" y1="297.00" x2="492.90" y2="297.00" stroke="#000" stroke-width="1.9" />
<line x1="483.00" y1="285.80" x2="489.80" y2="285.80" stroke="#000" stroke-width="1.6" />
<line x1="518.95" y1="314.30" x2="518.95" y2="307.50" stroke="#000" stroke-width="1.7" />
<line x1="512.45" y1="314.30" x2="525.45" y2="314.30" stroke="#000" stroke-width="1.9" />
<line x1="515.55" y1="307.50" x2="522.35" y2="307.50" stroke="#000" stroke-width="1.6" />
<line x1="551.50" y1="306.30" x2="551.50" y2="302.80" stroke="#000" stroke-width="1.7" />
<line x1="545.00" y1="306.30" x2="558.00" y2="306.30" stroke="#000" stroke-width="1.9" />
<line x1="548.10" y1="302.80" x2="554.90" y2="302.80" stroke="#000" stroke-width="1.6" />
<line x1="584.05" y1="295.50" x2="584.05" y2="283.30" stroke="#000" stroke-width="1.7" />
<line x1="577.55" y1="295.50" x2="590.55" y2="295.50" stroke="#000" stroke-width="1.9" />
<line x1="580.65" y1="283.30" x2="587.45" y2="283.30" stroke="#000" stroke-width="1.6" />
<text x="380.70" y="354.60" font-size="9" font-weight="bold" text-anchor="start" fill="#000" transform="rotate(-90 380.70 354.60)" textLength="17.50" lengthAdjust="spacing" stroke="#000" stroke-width="0.3" >C. I.</text>
<polygon points="381.90,335.40 381.90,327.10 372.70,328.60" fill="#000"/>
<text x="380.70" y="326.30" font-size="9" font-weight="bold" text-anchor="start" fill="#000" transform="rotate(-90 380.70 326.30)" textLength="22.20" lengthAdjust="spacing" font-style="italic" stroke="#000" stroke-width="0.3" >ribD</text>
<text x="380.70" y="299.90" font-size="9" font-weight="bold" text-anchor="start" fill="#000" transform="rotate(-90 380.70 299.90)" textLength="8.80" lengthAdjust="spacing" stroke="#000" stroke-width="0.3" >vs</text>
<text x="380.70" y="285.80" font-size="9" font-weight="bold" text-anchor="start" fill="#000" transform="rotate(-90 380.70 285.80)" textLength="16.50" lengthAdjust="spacing" stroke="#000" stroke-width="0.3" >W T</text>
<text x="423.10" y="387.40" font-size="8.5" font-weight="bold" text-anchor="end" fill="#000" transform="rotate(-45 423.10 387.40)" letter-spacing="1.0" stroke="#000" stroke-width="0.3" >1</text>
<text x="455.65" y="387.40" font-size="8.5" font-weight="bold" text-anchor="end" fill="#000" transform="rotate(-45 455.65 387.40)" letter-spacing="1.0" stroke="#000" stroke-width="0.3" >6</text>
<text x="488.20" y="387.40" font-size="8.5" font-weight="bold" text-anchor="end" fill="#000" transform="rotate(-45 488.20 387.40)" letter-spacing="1.0" stroke="#000" stroke-width="0.3" >10</text>
<text x="520.75" y="387.40" font-size="8.5" font-weight="bold" text-anchor="end" fill="#000" transform="rotate(-45 520.75 387.40)" letter-spacing="1.0" stroke="#000" stroke-width="0.3" >1</text>
<text x="553.30" y="387.40" font-size="8.5" font-weight="bold" text-anchor="end" fill="#000" transform="rotate(-45 553.30 387.40)" letter-spacing="1.0" stroke="#000" stroke-width="0.3" >6</text>
<text x="585.85" y="387.40" font-size="8.5" font-weight="bold" text-anchor="end" fill="#000" transform="rotate(-45 585.85 387.40)" letter-spacing="1.0" stroke="#000" stroke-width="0.3" >10</text>
<polyline points="405.00,385.50 405.00,403.30 498.00,403.30 498.00,385.50" fill="none" stroke="#000" stroke-width="1.9"/>
<polyline points="503.50,385.50 503.50,403.30 597.00,403.30 597.00,385.50" fill="none" stroke="#000" stroke-width="1.9"/>
<text x="421.30" y="416.30" font-size="8.6" font-weight="normal" text-anchor="start" fill="#000" textLength="60.70" lengthAdjust="spacing" stroke="#000" stroke-width="0.3" >No added RF</text>
<text x="537.80" y="416.30" font-size="8.6" font-weight="normal" text-anchor="start" fill="#000" textLength="21.20" lengthAdjust="spacing" stroke="#000" stroke-width="0.3" >+ RF</text>
<text x="448.00" y="434.50" font-size="9" font-weight="bold" text-anchor="start" fill="#000" textLength="108.20" lengthAdjust="spacing" stroke="#000" stroke-width="0.3" >Days post inoculation</text>
<text x="369.00" y="472.00" font-size="18" font-weight="bold" text-anchor="start" fill="#000" stroke="#000" stroke-width="0.3" >f</text>
<line x1="404.80" y1="465.90" x2="404.80" y2="604.60" stroke="#000" stroke-width="1.5" />
<line x1="401.30" y1="466.60" x2="404.80" y2="466.60" stroke="#000" stroke-width="1.4" />
<text x="394.90" y="470.40" font-size="8.4" font-weight="bold" text-anchor="end" fill="#000" letter-spacing="0.6" stroke="#000" stroke-width="0.3" >10</text>
<text x="396.90" y="467.60" font-size="5.6" font-weight="bold" text-anchor="start" fill="#000" stroke="#000" stroke-width="0.3" >1</text>
<line x1="402.60" y1="514.55" x2="404.80" y2="514.55" stroke="#000" stroke-width="0.9" />
<line x1="402.60" y1="502.47" x2="404.80" y2="502.47" stroke="#000" stroke-width="0.9" />
<line x1="402.60" y1="493.90" x2="404.80" y2="493.90" stroke="#000" stroke-width="0.9" />
<line x1="402.60" y1="487.25" x2="404.80" y2="487.25" stroke="#000" stroke-width="0.9" />
<line x1="402.60" y1="481.82" x2="404.80" y2="481.82" stroke="#000" stroke-width="0.9" />
<line x1="402.60" y1="477.23" x2="404.80" y2="477.23" stroke="#000" stroke-width="0.9" />
<line x1="402.60" y1="473.25" x2="404.80" y2="473.25" stroke="#000" stroke-width="0.9" />
<line x1="402.60" y1="469.74" x2="404.80" y2="469.74" stroke="#000" stroke-width="0.9" />
<line x1="401.30" y1="535.20" x2="404.80" y2="535.20" stroke="#000" stroke-width="1.4" />
<text x="394.90" y="539.00" font-size="8.4" font-weight="bold" text-anchor="end" fill="#000" letter-spacing="0.6" stroke="#000" stroke-width="0.3" >10</text>
<text x="396.90" y="536.20" font-size="5.6" font-weight="bold" text-anchor="start" fill="#000" stroke="#000" stroke-width="0.3" >0</text>
<line x1="402.60" y1="583.15" x2="404.80" y2="583.15" stroke="#000" stroke-width="0.9" />
<line x1="402.60" y1="571.07" x2="404.80" y2="571.07" stroke="#000" stroke-width="0.9" />
<line x1="402.60" y1="562.50" x2="404.80" y2="562.50" stroke="#000" stroke-width="0.9" />
<line x1="402.60" y1="555.85" x2="404.80" y2="555.85" stroke="#000" stroke-width="0.9" />
<line x1="402.60" y1="550.42" x2="404.80" y2="550.42" stroke="#000" stroke-width="0.9" />
<line x1="402.60" y1="545.83" x2="404.80" y2="545.83" stroke="#000" stroke-width="0.9" />
<line x1="402.60" y1="541.85" x2="404.80" y2="541.85" stroke="#000" stroke-width="0.9" />
<line x1="402.60" y1="538.34" x2="404.80" y2="538.34" stroke="#000" stroke-width="0.9" />
<line x1="401.30" y1="603.80" x2="404.80" y2="603.80" stroke="#000" stroke-width="1.4" />
<text x="391.90" y="607.60" font-size="8.4" font-weight="bold" text-anchor="end" fill="#000" letter-spacing="0.6" stroke="#000" stroke-width="0.3" >10</text>
<text x="393.90" y="604.80" font-size="5.6" font-weight="bold" text-anchor="start" fill="#000" stroke="#000" stroke-width="0.3" >-1</text>
<line x1="404.00" y1="603.80" x2="610.80" y2="603.80" stroke="#000" stroke-width="1.6" />
<line x1="405.80" y1="535.20" x2="610.80" y2="535.20" stroke="#000" stroke-width="1.3" stroke-dasharray="1.3 1.8"/>
<line x1="421.30" y1="603.80" x2="421.30" y2="607.40" stroke="#000" stroke-width="1.4" />
<line x1="455.60" y1="603.80" x2="455.60" y2="607.40" stroke="#000" stroke-width="1.4" />
<line x1="489.90" y1="603.80" x2="489.90" y2="607.40" stroke="#000" stroke-width="1.4" />
<line x1="524.20" y1="603.80" x2="524.20" y2="607.40" stroke="#000" stroke-width="1.4" />
<line x1="558.50" y1="603.80" x2="558.50" y2="607.40" stroke="#000" stroke-width="1.4" />
<line x1="592.80" y1="603.80" x2="592.80" y2="607.40" stroke="#000" stroke-width="1.4" />
<line x1="421.30" y1="536.80" x2="421.30" y2="528.30" stroke="#000" stroke-width="1.7" />
<line x1="414.80" y1="536.80" x2="427.80" y2="536.80" stroke="#000" stroke-width="1.9" />
<line x1="417.90" y1="528.30" x2="424.70" y2="528.30" stroke="#000" stroke-width="1.6" />
<line x1="455.60" y1="540.00" x2="455.60" y2="535.00" stroke="#000" stroke-width="1.7" />
<line x1="449.10" y1="540.00" x2="462.10" y2="540.00" stroke="#000" stroke-width="1.9" />
<line x1="452.20" y1="535.00" x2="459.00" y2="535.00" stroke="#000" stroke-width="1.6" />
<line x1="489.90" y1="543.30" x2="489.90" y2="528.80" stroke="#000" stroke-width="1.7" />
<line x1="483.40" y1="543.30" x2="496.40" y2="543.30" stroke="#000" stroke-width="1.9" />
<line x1="486.50" y1="528.80" x2="493.30" y2="528.80" stroke="#000" stroke-width="1.6" />
<line x1="524.20" y1="546.30" x2="524.20" y2="532.50" stroke="#000" stroke-width="1.7" />
<line x1="517.70" y1="546.30" x2="530.70" y2="546.30" stroke="#000" stroke-width="1.9" />
<line x1="520.80" y1="532.50" x2="527.60" y2="532.50" stroke="#000" stroke-width="1.6" />
<line x1="558.50" y1="518.00" x2="558.50" y2="496.30" stroke="#000" stroke-width="1.7" />
<line x1="552.00" y1="518.00" x2="565.00" y2="518.00" stroke="#000" stroke-width="1.9" />
<line x1="555.10" y1="496.30" x2="561.90" y2="496.30" stroke="#000" stroke-width="1.6" />
<line x1="592.80" y1="532.00" x2="592.80" y2="521.30" stroke="#000" stroke-width="1.7" />
<line x1="586.30" y1="532.00" x2="599.30" y2="532.00" stroke="#000" stroke-width="1.9" />
<line x1="589.40" y1="521.30" x2="596.20" y2="521.30" stroke="#000" stroke-width="1.6" />
<text x="371.50" y="582.70" font-size="9" font-weight="bold" text-anchor="start" fill="#000" transform="rotate(-90 371.50 582.70)" textLength="10.30" lengthAdjust="spacing" stroke="#000" stroke-width="0.3" >C.</text>
<text x="371.50" y="564.80" font-size="9" font-weight="bold" text-anchor="start" fill="#000" transform="rotate(-90 371.50 564.80)" textLength="5.40" lengthAdjust="spacing" stroke="#000" stroke-width="0.3" >I.</text>
<polygon points="372.70,556.60 372.70,547.70 363.50,549.20" fill="#000"/>
<text x="371.50" y="546.90" font-size="9" font-weight="bold" text-anchor="start" fill="#000" transform="rotate(-90 371.50 546.90)" textLength="20.60" lengthAdjust="spacing" font-style="italic" stroke="#000" stroke-width="0.3" >ribN</text>
<text x="371.50" y="521.40" font-size="9" font-weight="bold" text-anchor="start" fill="#000" transform="rotate(-90 371.50 521.40)" textLength="9.70" lengthAdjust="spacing" stroke="#000" stroke-width="0.3" >vs</text>
<text x="371.50" y="506.10" font-size="9" font-weight="bold" text-anchor="start" fill="#000" transform="rotate(-90 371.50 506.10)" textLength="16.80" lengthAdjust="spacing" stroke="#000" stroke-width="0.3" >W T</text>
<text x="423.10" y="616.30" font-size="8.5" font-weight="bold" text-anchor="end" fill="#000" transform="rotate(-45 423.10 616.30)" letter-spacing="1.0" stroke="#000" stroke-width="0.3" >1</text>
<text x="457.40" y="616.30" font-size="8.5" font-weight="bold" text-anchor="end" fill="#000" transform="rotate(-45 457.40 616.30)" letter-spacing="1.0" stroke="#000" stroke-width="0.3" >6</text>
<text x="491.70" y="616.30" font-size="8.5" font-weight="bold" text-anchor="end" fill="#000" transform="rotate(-45 491.70 616.30)" letter-spacing="1.0" stroke="#000" stroke-width="0.3" >10</text>
<text x="526.00" y="616.30" font-size="8.5" font-weight="bold" text-anchor="end" fill="#000" transform="rotate(-45 526.00 616.30)" letter-spacing="1.0" stroke="#000" stroke-width="0.3" >1</text>
<text x="560.30" y="616.30" font-size="8.5" font-weight="bold" text-anchor="end" fill="#000" transform="rotate(-45 560.30 616.30)" letter-spacing="1.0" stroke="#000" stroke-width="0.3" >6</text>
<text x="594.60" y="616.30" font-size="8.5" font-weight="bold" text-anchor="end" fill="#000" transform="rotate(-45 594.60 616.30)" letter-spacing="1.0" stroke="#000" stroke-width="0.3" >10</text>
<polyline points="403.80,614.40 403.80,632.50 502.80,632.50 502.80,614.40" fill="none" stroke="#000" stroke-width="1.9"/>
<polyline points="507.80,614.40 507.80,632.50 607.00,632.50 607.00,614.40" fill="none" stroke="#000" stroke-width="1.9"/>
<text x="423.00" y="646.60" font-size="8.6" font-weight="normal" text-anchor="start" fill="#000" textLength="63.20" lengthAdjust="spacing" stroke="#000" stroke-width="0.3" >No added RF</text>
<text x="544.00" y="646.60" font-size="8.6" font-weight="normal" text-anchor="start" fill="#000" textLength="22.20" lengthAdjust="spacing" stroke="#000" stroke-width="0.3" >+ RF</text>
<text x="449.30" y="665.80" font-size="9" font-weight="bold" text-anchor="start" fill="#000" textLength="114.50" lengthAdjust="spacing" stroke="#000" stroke-width="0.3" >Days post inoculation</text>
<text x="378.20" y="754.30" font-size="18" font-weight="bold" text-anchor="start" fill="#000" stroke="#000" stroke-width="0.3" >h</text>
<line x1="414.80" y1="750.00" x2="414.80" y2="888.90" stroke="#000" stroke-width="1.5" />
<line x1="411.30" y1="750.70" x2="414.80" y2="750.70" stroke="#000" stroke-width="1.4" />
<text x="404.90" y="754.50" font-size="8.4" font-weight="bold" text-anchor="end" fill="#000" letter-spacing="0.6" stroke="#000" stroke-width="0.3" >10</text>
<text x="406.90" y="751.70" font-size="5.6" font-weight="bold" text-anchor="start" fill="#000" stroke="#000" stroke-width="0.3" >1</text>
<line x1="412.60" y1="798.72" x2="414.80" y2="798.72" stroke="#000" stroke-width="0.9" />
<line x1="412.60" y1="786.62" x2="414.80" y2="786.62" stroke="#000" stroke-width="0.9" />
<line x1="412.60" y1="778.04" x2="414.80" y2="778.04" stroke="#000" stroke-width="0.9" />
<line x1="412.60" y1="771.38" x2="414.80" y2="771.38" stroke="#000" stroke-width="0.9" />
<line x1="412.60" y1="765.94" x2="414.80" y2="765.94" stroke="#000" stroke-width="0.9" />
<line x1="412.60" y1="761.34" x2="414.80" y2="761.34" stroke="#000" stroke-width="0.9" />
<line x1="412.60" y1="757.36" x2="414.80" y2="757.36" stroke="#000" stroke-width="0.9" />
<line x1="412.60" y1="753.84" x2="414.80" y2="753.84" stroke="#000" stroke-width="0.9" />
<line x1="411.30" y1="819.40" x2="414.80" y2="819.40" stroke="#000" stroke-width="1.4" />
<text x="404.90" y="823.20" font-size="8.4" font-weight="bold" text-anchor="end" fill="#000" letter-spacing="0.6" stroke="#000" stroke-width="0.3" >10</text>
<text x="406.90" y="820.40" font-size="5.6" font-weight="bold" text-anchor="start" fill="#000" stroke="#000" stroke-width="0.3" >0</text>
<line x1="412.60" y1="867.42" x2="414.80" y2="867.42" stroke="#000" stroke-width="0.9" />
<line x1="412.60" y1="855.32" x2="414.80" y2="855.32" stroke="#000" stroke-width="0.9" />
<line x1="412.60" y1="846.74" x2="414.80" y2="846.74" stroke="#000" stroke-width="0.9" />
<line x1="412.60" y1="840.08" x2="414.80" y2="840.08" stroke="#000" stroke-width="0.9" />
<line x1="412.60" y1="834.64" x2="414.80" y2="834.64" stroke="#000" stroke-width="0.9" />
<line x1="412.60" y1="830.04" x2="414.80" y2="830.04" stroke="#000" stroke-width="0.9" />
<line x1="412.60" y1="826.06" x2="414.80" y2="826.06" stroke="#000" stroke-width="0.9" />
<line x1="412.60" y1="822.54" x2="414.80" y2="822.54" stroke="#000" stroke-width="0.9" />
<line x1="411.30" y1="888.10" x2="414.80" y2="888.10" stroke="#000" stroke-width="1.4" />
<text x="401.90" y="891.90" font-size="8.4" font-weight="bold" text-anchor="end" fill="#000" letter-spacing="0.6" stroke="#000" stroke-width="0.3" >10</text>
<text x="403.90" y="889.10" font-size="5.6" font-weight="bold" text-anchor="start" fill="#000" stroke="#000" stroke-width="0.3" >-1</text>
<line x1="414.00" y1="888.10" x2="623.00" y2="888.10" stroke="#000" stroke-width="1.6" />
<line x1="415.80" y1="819.40" x2="623.00" y2="819.40" stroke="#000" stroke-width="1.3" stroke-dasharray="1.3 1.8"/>
<line x1="432.50" y1="888.10" x2="432.50" y2="891.70" stroke="#000" stroke-width="1.4" />
<line x1="466.90" y1="888.10" x2="466.90" y2="891.70" stroke="#000" stroke-width="1.4" />
<line x1="501.30" y1="888.10" x2="501.30" y2="891.70" stroke="#000" stroke-width="1.4" />
<line x1="535.70" y1="888.10" x2="535.70" y2="891.70" stroke="#000" stroke-width="1.4" />
<line x1="570.10" y1="888.10" x2="570.10" y2="891.70" stroke="#000" stroke-width="1.4" />
<line x1="604.50" y1="888.10" x2="604.50" y2="891.70" stroke="#000" stroke-width="1.4" />
<line x1="432.50" y1="815.80" x2="432.50" y2="803.00" stroke="#000" stroke-width="1.7" />
<line x1="426.00" y1="815.80" x2="439.00" y2="815.80" stroke="#000" stroke-width="1.9" />
<line x1="429.10" y1="803.00" x2="435.90" y2="803.00" stroke="#000" stroke-width="1.6" />
<line x1="466.90" y1="817.50" x2="466.90" y2="807.00" stroke="#000" stroke-width="1.7" />
<line x1="460.40" y1="817.50" x2="473.40" y2="817.50" stroke="#000" stroke-width="1.9" />
<line x1="463.50" y1="807.00" x2="470.30" y2="807.00" stroke="#000" stroke-width="1.6" />
<line x1="501.30" y1="815.00" x2="501.30" y2="795.00" stroke="#000" stroke-width="1.7" />
<line x1="494.80" y1="815.00" x2="507.80" y2="815.00" stroke="#000" stroke-width="1.9" />
<line x1="497.90" y1="795.00" x2="504.70" y2="795.00" stroke="#000" stroke-width="1.6" />
<line x1="535.70" y1="829.30" x2="535.70" y2="817.00" stroke="#000" stroke-width="1.7" />
<line x1="529.20" y1="829.30" x2="542.20" y2="829.30" stroke="#000" stroke-width="1.9" />
<line x1="532.30" y1="817.00" x2="539.10" y2="817.00" stroke="#000" stroke-width="1.6" />
<line x1="570.10" y1="808.00" x2="570.10" y2="788.00" stroke="#000" stroke-width="1.7" />
<line x1="563.60" y1="808.00" x2="576.60" y2="808.00" stroke="#000" stroke-width="1.9" />
<line x1="566.70" y1="788.00" x2="573.50" y2="788.00" stroke="#000" stroke-width="1.6" />
<line x1="604.50" y1="825.80" x2="604.50" y2="813.00" stroke="#000" stroke-width="1.7" />
<line x1="598.00" y1="825.80" x2="611.00" y2="825.80" stroke="#000" stroke-width="1.9" />
<line x1="601.10" y1="813.00" x2="607.90" y2="813.00" stroke="#000" stroke-width="1.6" />
<text x="388.20" y="869.10" font-size="9" font-weight="bold" text-anchor="start" fill="#000" transform="rotate(-90 388.20 869.10)" textLength="15.90" lengthAdjust="spacing" stroke="#000" stroke-width="0.3" >C.I.</text>
<polygon points="389.40,850.20 389.40,841.70 380.20,843.20" fill="#000"/>
<text x="388.20" y="840.70" font-size="9" font-weight="bold" text-anchor="start" fill="#000" transform="rotate(-90 388.20 840.70)" textLength="20.50" lengthAdjust="spacing" font-style="italic" stroke="#000" stroke-width="0.3" >ribN</text>
<text x="388.20" y="815.10" font-size="9" font-weight="bold" text-anchor="start" fill="#000" transform="rotate(-90 388.20 815.10)" textLength="10.20" lengthAdjust="spacing" stroke="#000" stroke-width="0.3" >vs</text>
<polygon points="389.40,799.70 389.40,791.10 380.20,792.60" fill="#000"/>
<text x="388.20" y="790.30" font-size="9" font-weight="bold" text-anchor="start" fill="#000" transform="rotate(-90 388.20 790.30)" textLength="19.50" lengthAdjust="spacing" font-style="italic" stroke="#000" stroke-width="0.3" >ribD</text>
<text x="434.30" y="899.90" font-size="8.5" font-weight="bold" text-anchor="end" fill="#000" transform="rotate(-45 434.30 899.90)" letter-spacing="1.0" stroke="#000" stroke-width="0.3" >1</text>
<text x="468.70" y="899.90" font-size="8.5" font-weight="bold" text-anchor="end" fill="#000" transform="rotate(-45 468.70 899.90)" letter-spacing="1.0" stroke="#000" stroke-width="0.3" >6</text>
<text x="503.10" y="899.90" font-size="8.5" font-weight="bold" text-anchor="end" fill="#000" transform="rotate(-45 503.10 899.90)" letter-spacing="1.0" stroke="#000" stroke-width="0.3" >10</text>
<text x="537.50" y="899.90" font-size="8.5" font-weight="bold" text-anchor="end" fill="#000" transform="rotate(-45 537.50 899.90)" letter-spacing="1.0" stroke="#000" stroke-width="0.3" >1</text>
<text x="571.90" y="899.90" font-size="8.5" font-weight="bold" text-anchor="end" fill="#000" transform="rotate(-45 571.90 899.90)" letter-spacing="1.0" stroke="#000" stroke-width="0.3" >6</text>
<text x="606.30" y="899.90" font-size="8.5" font-weight="bold" text-anchor="end" fill="#000" transform="rotate(-45 606.30 899.90)" letter-spacing="1.0" stroke="#000" stroke-width="0.3" >10</text>
<polyline points="414.50,898.00 414.50,917.30 513.50,917.30 513.50,898.00" fill="none" stroke="#000" stroke-width="1.9"/>
<polyline points="518.80,898.00 518.80,917.30 618.30,917.30 618.30,898.00" fill="none" stroke="#000" stroke-width="1.9"/>
<text x="434.50" y="931.00" font-size="8.6" font-weight="normal" text-anchor="start" fill="#000" textLength="63.50" lengthAdjust="spacing" stroke="#000" stroke-width="0.3" >No added RF</text>
<text x="555.00" y="931.00" font-size="8.6" font-weight="normal" text-anchor="start" fill="#000" textLength="22.50" lengthAdjust="spacing" stroke="#000" stroke-width="0.3" >+ RF</text>
<text x="460.50" y="950.00" font-size="9" font-weight="bold" text-anchor="start" fill="#000" textLength="114.80" lengthAdjust="spacing" stroke="#000" stroke-width="0.3" >Days post inoculation</text>
</svg>
</body></html>
